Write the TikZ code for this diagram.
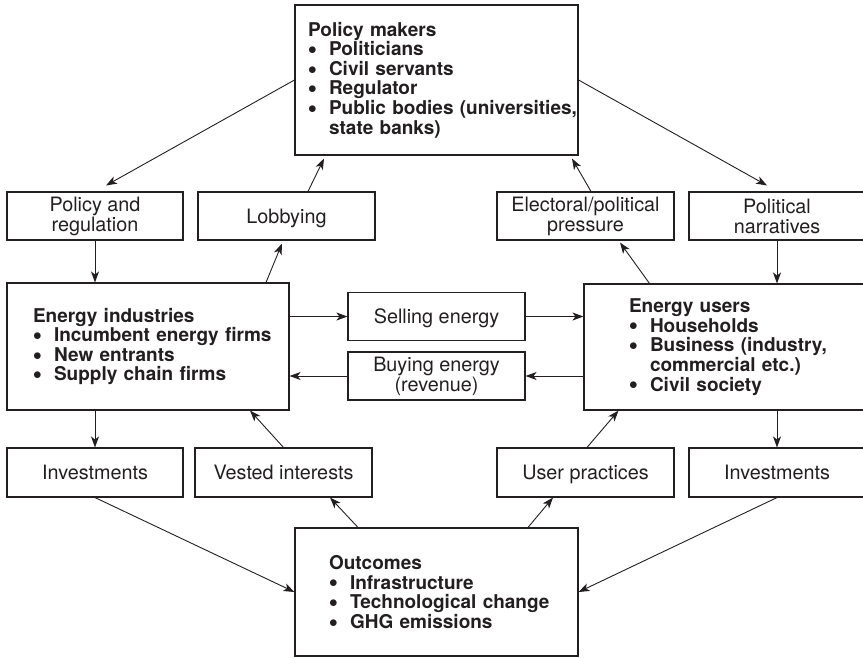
\documentclass[tikz,border=0pt]{standalone}
\usepackage{fontspec}
\setmainfont{TeX Gyre Heros}
\usetikzlibrary{arrows.meta}
\definecolor{ink}{RGB}{35,31,32}
\newcommand{\bul}[1]{\mbox{\makebox[21pt][l]{\raisebox{1.3pt}{$\bullet$}}#1}}
\newcommand{\bulskip}[1]{\mbox{\hspace*{21pt}#1}}

\begin{document}
\begin{tikzpicture}[x=1pt,y=-1pt,
    box/.style={draw=ink,line width=1.1pt,text=ink,inner sep=0pt,align=center,
      font=\fontsize{19.8}{20}\selectfont,minimum width=177pt,minimum height=48pt},
    one/.style={text height=14.2pt,text depth=0pt},
    bigbox/.style={draw=ink,line width=1.1pt,text=ink,inner ysep=0pt,align=left,
      font=\fontsize{19}{19.6}\selectfont\bfseries},
    arr/.style={draw=ink,line width=0.9pt,-{Stealth[length=11pt,width=8pt,inset=3pt]}}]
  \useasboundingbox (0,0) rectangle (863,657);

  % top
  \node[bigbox,inner xsep=13pt,text width=257pt,minimum height=150pt] (policy) at (436.5,80)
    {Policy makers\\ \bul{Politicians}\\ \bul{Civil servants}\\ \bul{Regulator}\\
    \bul{Public bodies (universities,}\\ \bulskip{state banks)}};
  \node[box,minimum width=176pt] (polreg) at (95,216) {Policy and\\regulation};
  \node[box,one] (lobby) at (286.5,216) {Lobbying};
  \node[box] (elect) at (585.5,216) {Electoral/political\\pressure};
  \node[box,minimum width=176pt] (narr) at (777,216) {Political\\narratives};

  % middle
  \node[bigbox,inner xsep=26pt,text width=230pt,minimum height=127pt] (indus) at (148,346.5)
    {Energy industries\\ \bul{Incumbent energy firms}\\ \bul{New entrants}\\ \bul{Supply chain firms}};
  \node[bigbox,inner xsep=45pt,text width=192pt,minimum height=126pt] (users) at (725,347)
    {Energy users\\ \bul{Households}\\ \bul{Business (industry,}\\ \bulskip{commercial etc.)}\\ \bul{Civil society}};
  \node[box,one] (sell) at (436.5,316.5) {Selling energy};
  \node[box] (buy) at (436.5,376) {Buying energy\\(revenue)};

  % bottom
  \node[box,one,minimum width=176pt,minimum height=49pt] (invL) at (95,472.5) {Investments};
  \node[box,one,minimum height=49pt] (vest) at (283.5,472.5) {Vested interests};
  \node[box,one,minimum height=49pt] (usepr) at (585.5,472.5) {User practices};
  \node[box,one,minimum width=176pt,minimum height=49pt] (invR) at (777,472.5) {Investments};
  \node[bigbox,inner xsep=34pt,text width=215pt,minimum height=128pt] (outc) at (436.5,592)
    {Outcomes\\ \bul{Infrastructure}\\ \bul{Technological change}\\ \bul{GHG emissions}};

  \draw[arr] (policy.west) -- ([xshift=11pt,yshift=6pt]polreg.north);
  \draw[arr] (polreg.south) -- (polreg.south |- indus.north);
  \draw[arr] ([xshift=118pt]indus.north) -- ([xshift=-4.5pt,yshift=-3pt]lobby.south);
  \draw[arr] ([xshift=21.5pt]lobby.north) -- ([xshift=-112.5pt,yshift=-3pt]policy.south);
  \draw[arr] (policy.east) -- ([xshift=-10pt,yshift=6pt]narr.north);
  \draw[arr] ([xshift=5.5pt]elect.north) -- ([xshift=135.5pt,yshift=-3pt]policy.south);
  \draw[arr] ([xshift=-75.5pt]users.north) -- ([xshift=34.5pt,yshift=-2pt]elect.south);
  \draw[arr] (narr.south) -- (narr.south |- users.north);

  \draw[arr] (indus.east |- sell.west) -- (sell.west);
  \draw[arr] (sell.east) -- (users.west |- sell.east);
  \draw[arr] (users.west |- buy.east) -- (buy.east);
  \draw[arr] (buy.west) -- (indus.east |- buy.west);

  \draw[arr] (invL.north |- indus.south) -- (invL.north);
  \draw[arr] (vest.north) -- ([xshift=102pt]indus.south);
  \draw[arr] ([xshift=-78.5pt]outc.north) -- ([xshift=46.5pt]vest.south);
  \draw[arr] (invL.south) -- (outc.west);
  \draw[arr] ([xshift=91.5pt]outc.north) -- ([xshift=-32.5pt]usepr.south);
  \draw[arr] ([xshift=1.5pt]usepr.north) -- ([xshift=-106.5pt]users.south);
  \draw[arr] (invR.north |- users.south) -- (invR.north);
  \draw[arr] (invR.south) -- (outc.east);
\end{tikzpicture}
\end{document}
